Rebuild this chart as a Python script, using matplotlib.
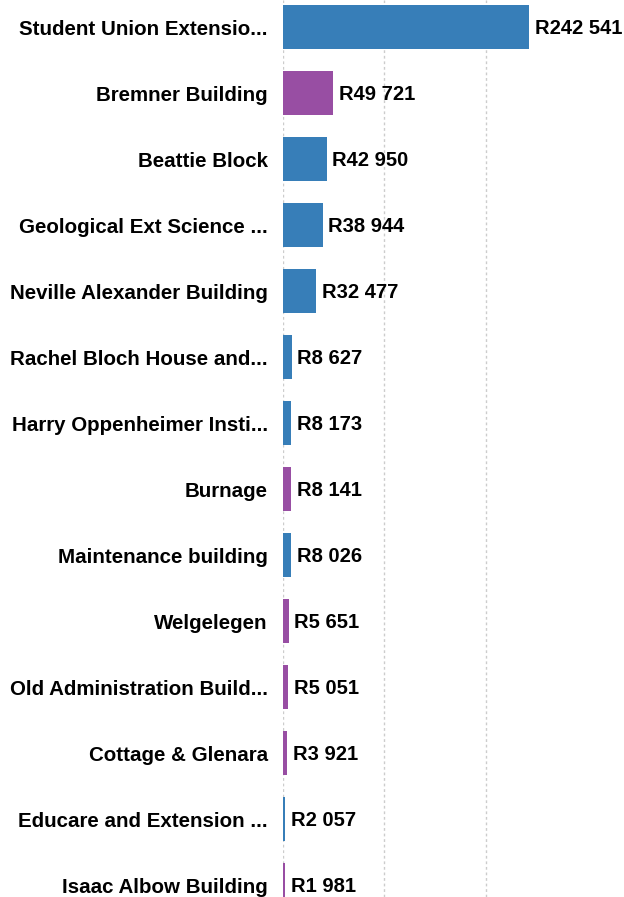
import matplotlib
matplotlib.use("Agg")
import matplotlib.pyplot as plt

categories = ["Student Union Extensio...", "Bremner Building", "Beattie Block",
              "Geological Ext Science ...", "Neville Alexander Building",
              "Rachel Bloch House and...", "Harry Oppenheimer Insti...", "Burnage",
              "Maintenance building", "Welgelegen", "Old Administration Build...",
              "Cottage & Glenara", "Educare and Extension ...", "Isaac Albow Building"]
values = [242541, 49721, 42950, 38944, 32477, 8627, 8173, 8141, 8026, 5651, 5051, 3921, 2057, 1981]
groups = ["blue", "purple", "blue", "blue", "blue", "blue", "blue", "purple",
          "blue", "purple", "purple", "purple", "blue", "purple"]
palette = {"blue": "#377eb8", "purple": "#984ea3"}

plt.rcParams['font.family'] = ['Liberation Sans', 'DejaVu Sans']

fig = plt.figure(figsize=(6.24, 8.97), dpi=100)
ax = fig.add_axes([283/624, 0, 1 - 283/624, 1])
ypos = list(range(len(categories)))
ax.barh(ypos, values, height=0.667, color=[palette[g] for g in groups], zorder=2)
ax.set_xlim(0, 336000)
ax.set_ylim(13.18, -0.41)
ax.set_xticks([0, 100000, 200000])
ax.grid(axis='x', color='#cccccc', linestyle=(0, (2, 2)), linewidth=1, zorder=0)
ax.tick_params(left=False, bottom=False, labelbottom=False)
ax.set_yticks(ypos)
ax.set_yticklabels(categories, fontsize=14.8, fontweight='bold')
ax.tick_params(axis='y', length=0, pad=11)
for s in ax.spines.values():
    s.set_visible(False)
for y, v in zip(ypos, values):
    lab = "R" + f"{v:,}".replace(",", " ")
    ax.text(v + 5500, y + 0.02, lab, va='center', ha='left', fontsize=14.5, fontweight='bold')
fig.savefig("out.png", dpi=100)
